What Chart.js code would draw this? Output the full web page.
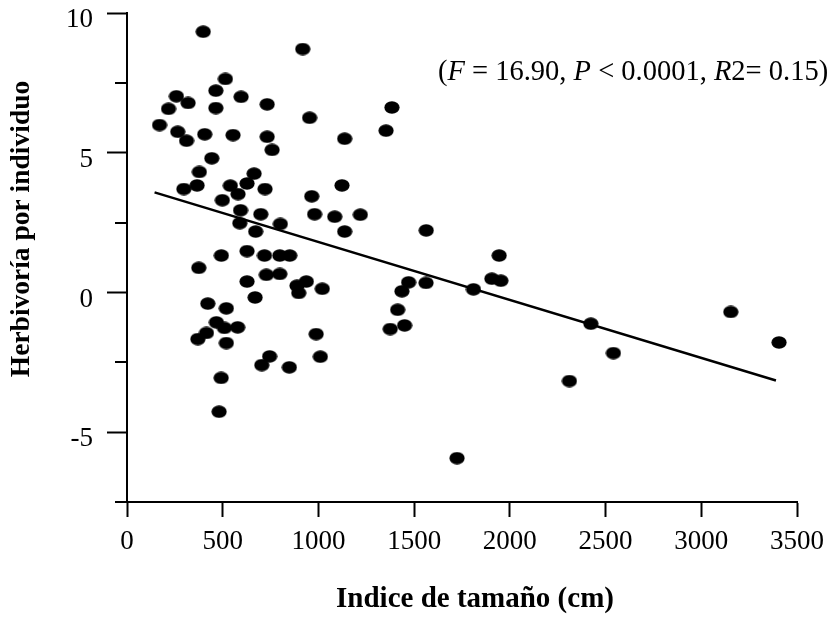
<!DOCTYPE html>
<html>
<head>
<meta charset="utf-8">
<script src="https://cdn.jsdelivr.net/npm/chart.js@4"></script>
<style>
  body { margin: 0; background: #fff; }
  #wrap { width: 830px; height: 618px; }
</style>
</head>
<body>
<div id="wrap"><canvas id="myChart" width="830" height="618"></canvas></div>
<script>
// Indice de tamaño (cm) vs herbivoría por individuo
const sizeIndex = [398, 918, 514, 464, 258, 319, 596, 732, 217, 464, 954, 170, 265, 311, 406, 554, 732, 1137, 758, 443,
  378, 664, 297, 366, 540, 627, 721, 1123, 965, 580, 498, 1384, 1353, 593, 699, 980, 1085, 1219, 589, 801,
  1137, 672, 1563, 493, 627, 718, 798, 850, 1944, 375, 728, 798, 627, 937, 888, 897, 1020, 669, 1906, 1953,
  1471, 1562, 1436, 1810, 422, 519, 1414, 467, 509, 578, 415, 370, 519, 988, 1375, 1450, 2423, 1010, 745, 704,
  848, 492, 481, 2311, 1724, 2541, 3154, 3406];
const herbivory = [9.33, 8.71, 7.64, 7.22, 7.02, 6.78, 7.00, 6.73, 6.57, 6.60, 6.25, 5.99, 5.75, 5.43, 5.66, 5.63, 5.57, 5.50, 5.10, 4.80,
  4.31, 4.25, 3.70, 3.83, 3.82, 3.90, 3.70, 3.83, 3.44, 3.52, 3.30, 6.62, 5.79, 2.94, 2.80, 2.80, 2.71, 2.78, 2.48, 2.45,
  2.18, 2.18, 2.22, 1.32, 1.48, 1.32, 1.32, 1.32, 1.32, 0.88, 0.63, 0.66, 0.39, 0.39, 0.24, -0.02, 0.13, -0.18, 0.49, 0.42,
  0.36, 0.34, 0.04, 0.11, -0.40, -0.57, -0.62, -1.07, -1.27, -1.25, -1.45, -1.67, -1.81, -1.49, -1.31, -1.18, -1.12, -2.30, -2.29, -2.60,
  -2.68, -3.06, -4.27, -3.17, -5.93, -2.17, -0.70, -1.79];

// fitted line ends
const fitX = [144, 3390];
const fitY = [3.58, -3.15];

const xTicks = [0, 500, 1000, 1500, 2000, 2500, 3000, 3500];
const yTicks = [-5, 0, 5, 10];
const yMinorTicks = [-7.5, -2.5, 2.5, 7.5];

const statsText = [["(", false], ["F", true], [" = 16.90, ", false], ["P", true], [" < 0.0001, ", false], ["R", true], ["2= 0.15)", false]];

// ellipse marker
const dot = document.createElement("canvas");
dot.width = 16;
dot.height = 13;
const dctx = dot.getContext("2d");
dctx.fillStyle = "#000";
dctx.beginPath();
dctx.ellipse(8, 6.5, 7.6, 6.2, 0, 0, Math.PI * 2);
dctx.fill();

const serif = "'Liberation Serif', 'Times New Roman', serif";

const extras = {
  id: "extras",
  afterDraw(chart) {
    const ctx = chart.ctx;
    const ys = chart.scales.y;
    const left = chart.chartArea.left;
    ctx.save();
    ctx.strokeStyle = "#000";
    ctx.lineWidth = 2;
    yMinorTicks.forEach(v => {
      const py = Math.round(ys.getPixelForValue(v));
      ctx.beginPath();
      ctx.moveTo(left - 12, py);
      ctx.lineTo(left, py);
      ctx.stroke();
    });

    // stats text
    let x = 438;
    ctx.fillStyle = "#000";
    ctx.textBaseline = "alphabetic";
    statsText.forEach(([t, it]) => {
      ctx.font = (it ? "italic " : "") + "28.5px " + serif;
      ctx.fillText(t, x, 80);
      x += ctx.measureText(t).width;
    });

    // axis titles
    ctx.textAlign = "center";
    ctx.textBaseline = "middle";
    ctx.font = "bold 29px " + serif;
    ctx.fillText("Indice de tamaño (cm)", 475, 600);
    ctx.font = "bold 27.5px " + serif;
    ctx.translate(22, 229);
    ctx.rotate(-Math.PI / 2);
    ctx.fillText("Herbivoría por individuo", 0, 0);
    ctx.restore();
  }
};

new Chart(document.getElementById("myChart"), {
  type: "scatter",
  data: {
    datasets: [
      {
        data: sizeIndex.map((v, i) => ({ x: v, y: herbivory[i] })),
        pointStyle: dot,
        pointRadius: 7,
        showLine: false
      },
      {
        data: fitX.map((v, i) => ({ x: v, y: fitY[i] })),
        showLine: true,
        borderColor: "#000",
        borderWidth: 2.5,
        pointRadius: 0
      }
    ]
  },
  options: {
    responsive: false,
    animation: false,
    layout: { padding: { left: 0, right: 33, top: 13, bottom: 0 } },
    plugins: { legend: { display: false }, tooltip: { enabled: false } },
    scales: {
      x: {
        type: "linear",
        min: 0,
        max: 3500,
        afterFit(scale) {
          scale.height = 116;
          scale.paddingLeft = 0;
          scale.paddingRight = 0;
        },
        afterBuildTicks(scale) { scale.ticks = xTicks.map(v => ({ value: v })); },
        ticks: { color: "#000", padding: 11, maxRotation: 0, callback: v => String(v), font: { family: serif, size: 27, lineHeight: 1 } },
        grid: { drawOnChartArea: false, tickLength: 15, tickWidth: 2, tickColor: "#000" },
        border: { color: "#000", width: 2 }
      },
      y: {
        type: "linear",
        min: -7.5,
        max: 10,
        afterFit(scale) {
          scale.width = 127;
          scale.paddingTop = 0;
          scale.paddingBottom = 0;
        },
        afterBuildTicks(scale) { scale.ticks = yTicks.map(v => ({ value: v })); },
        ticks: { color: "#000", padding: 14, labelOffset: 7, callback: v => String(v), font: { family: serif, size: 27, lineHeight: 1 } },
        grid: { drawOnChartArea: false, tickLength: 20, tickWidth: 2, tickColor: "#000" },
        border: { color: "#000", width: 2 }
      }
    }
  },
  plugins: [extras]
});
</script>
</body>
</html>
